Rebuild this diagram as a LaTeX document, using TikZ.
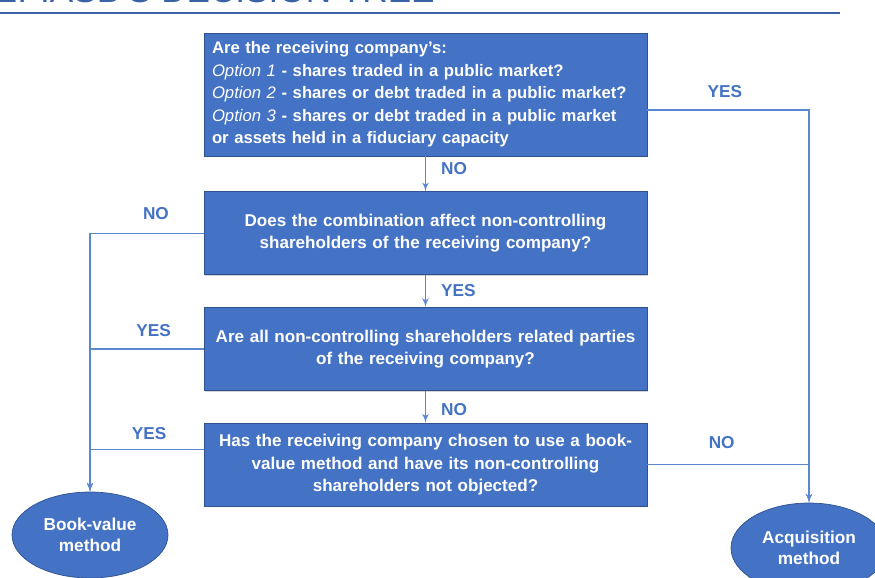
\documentclass[tikz,border=0pt]{standalone}
\usepackage{fontspec}
\setmainfont{Liberation Sans}
\usepackage{xcolor}
\usepackage{tikz}
\usetikzlibrary{shapes,arrows,shadows}
\usetikzlibrary{positioning}
\definecolor{boxblue}{HTML}{4472C4}
\definecolor{edgeblue}{HTML}{2F528F}
\definecolor{lineblue}{HTML}{5B87D0}
\definecolor{ruleblue}{HTML}{3A62A7}
\tikzstyle{block} = [rectangle, draw=edgeblue, fill=boxblue, text=white,
    font=\bfseries\fontsize{9.7}{12.8}\selectfont, text width=8.54cm, align=center,
    inner sep=0.16cm, minimum height=1.66cm, minimum width=8.86cm,
    drop shadow={shadow xshift=0.7pt, shadow yshift=-0.7pt, opacity=0.35}]
\tikzstyle{block_left} = [block, align=left,
    font=\bfseries\fontsize{9.5}{12.8}\selectfont]
\tikzstyle{terminal} = [ellipse, draw=edgeblue, fill=boxblue, text=white,
    font=\bfseries\fontsize{9.8}{12.2}\selectfont, align=center, inner sep=0pt,
    minimum width=3.12cm, minimum height=1.72cm]
\tikzstyle{line} = [draw=lineblue, -latex', line width=0.75pt]
\tikzstyle{answer} = [text=boxblue, font=\bfseries\fontsize{9.8}{12}\selectfont, inner sep=0pt]
\tikzstyle{heading} = [text=ruleblue, font=\fontsize{20}{24}\selectfont, inner sep=0pt]
\tikzstyle{titlerule} = [draw=ruleblue, line width=1.5pt]

\begin{document}
\begin{tikzpicture}[node distance = 0.64cm, auto]
    \useasboundingbox (0,0) rectangle (17.5,-11.54);
    \clip (0,0) rectangle (17.5,-11.54);
    % Title
    \node [heading, anchor=base west] (heading) at (-0.05,-0.04) {2. IASB’S DECISION TREE};
    \path [titlerule] (0,-0.26) -- (16.8,-0.26);

    % Place nodes
    \node [block_left, minimum height=2.46cm] (options) at (8.51,-1.89)
        {Are the receiving company’s:\\
        \textmd{\textit{Option 1}} - shares traded in a public market?\\
        \textmd{\textit{Option 2}} - shares or debt traded in a public market?\\
        \textmd{\textit{Option 3}} - shares or debt traded in a public market\\
        or assets held in a fiduciary capacity};
    \node [block, below=0.7cm of options] (affect)
        {Does the combination affect non-controlling\\shareholders of the receiving company?};
    \node [block, below=of affect] (related)
        {Are all non-controlling shareholders related parties\\of the receiving company?};
    \node [block, below=of related] (chosen)
        {Has the receiving company chosen to use a book-\\value method and have its non-controlling\\shareholders not objected?};

    \node [terminal] (bookvalue) at (1.80,-10.70) {Book-value\\method};
    \node [terminal, minimum height=1.8cm] (acquisition) at (16.18,-10.96) {Acquisition\\method};

    % Draw edges
    \path [line] (options) -- node [answer, right=0.3cm, pos=0.34] {NO} (affect);
    \path [line] (affect) -- node [answer, right=0.3cm, pos=0.47] {YES} (related);
    \path [line] (related) -- node [answer, right=0.3cm, pos=0.6] {NO} (chosen);

    \path [line] (affect.west) -| node [answer, above=0.26cm, pos=0.21] {NO} (bookvalue.north);
    \path [line] (related.west) -| node [answer, above=0.24cm, pos=0.22] {YES} (bookvalue.north);
    \path [line] ([yshift=0.3cm]chosen.west) -| node [answer, above=0.18cm, pos=0.24] {YES} (bookvalue.north);

    \path [line] ([yshift=-0.31cm]options.east) -| node [answer, above=0.24cm, pos=0.24] {YES} (acquisition.north);
    \path [line] (chosen.east) -| node [answer, above=0.3cm, pos=0.23] {NO} (acquisition.north);
\end{tikzpicture}
\end{document}
